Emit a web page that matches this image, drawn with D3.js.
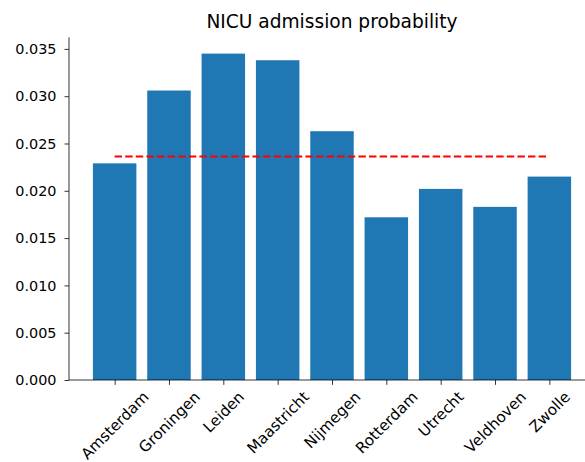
<!DOCTYPE html>
<html>
<head>
<meta charset="utf-8">
<script src="https://cdn.jsdelivr.net/npm/d3@7"></script>
<style>
  html, body { margin: 0; padding: 0; background: #fff; }
  svg { display: block; font-family: "DejaVu Sans", sans-serif; }
</style>
</head>
<body>
<svg id="chart" width="585" height="462"></svg>
<script>
// Hospital locations and their NICU admission probabilities
const centres = ["Amsterdam", "Groningen", "Leiden", "Maastricht", "Nijmegen",
                 "Rotterdam", "Utrecht", "Veldhoven", "Zwolle"];
const probabilities = [0.0229, 0.0306, 0.0345, 0.0338, 0.0263,
                       0.0172, 0.0202, 0.0183, 0.0215];
// National average drawn as a dashed reference line
const overallMean = 0.02362;
const yTicks = [0, 0.005, 0.010, 0.015, 0.020, 0.025, 0.030, 0.035];
const chartTitle = "NICU admission probability";

const svg = d3.select("#chart");
const plotLeft = 69, plotRight = 595, plotTop = 37.3, plotBottom = 380;

// Linear positions: index i sits at x(i); bars are 0.8 wide
const x = d3.scaleLinear()
  .domain([-0.84, centres.length - 1 + 0.84])
  .range([plotLeft, plotRight]);
const y = d3.scaleLinear()
  .domain([0, d3.max(probabilities) * 1.05])
  .range([plotBottom, plotTop]);

const barW = x(0.8) - x(0);

svg.append("g")
  .selectAll("rect")
  .data(probabilities)
  .join("rect")
  .attr("x", (d, i) => x(i - 0.4))
  .attr("width", barW)
  .attr("y", d => y(d))
  .attr("height", d => y(0) - y(d))
  .attr("fill", "#1f77b4");

// Dashed mean line from the first to the last centre
svg.append("line")
  .attr("x1", x(0)).attr("x2", x(centres.length - 1))
  .attr("y1", y(overallMean)).attr("y2", y(overallMean))
  .attr("stroke", "#ff0000")
  .attr("stroke-width", 2)
  .attr("stroke-dasharray", "7.4,3.2");

// Y axis
const yAxis = svg.append("g")
  .attr("transform", `translate(${plotLeft},0)`)
  .call(d3.axisLeft(y).tickValues(yTicks).tickFormat(d3.format(".3f"))
        .tickSize(4.5).tickPadding(8));
yAxis.select(".domain").attr("d", `M0,${plotBottom}V${plotTop}`)
  .attr("stroke", "#000").attr("stroke-width", 0.8);
yAxis.selectAll(".tick line").attr("stroke", "#000").attr("stroke-width", 0.8);
yAxis.selectAll(".tick text")
  .attr("font-size", "14.4px").attr("fill", "#000")
  .attr("font-family", "DejaVu Sans, sans-serif");

// X axis with rotated labels centred under each tick
const xAxis = svg.append("g")
  .attr("transform", `translate(0,${plotBottom})`)
  .call(d3.axisBottom(x).tickValues(d3.range(centres.length))
        .tickFormat(i => centres[i]).tickSize(4.86).tickPadding(4.86));
xAxis.select(".domain").attr("d", `M${plotLeft},0H${plotRight}`)
  .attr("stroke", "#000").attr("stroke-width", 0.8);
xAxis.selectAll(".tick line").attr("stroke", "#000").attr("stroke-width", 0.8);
xAxis.selectAll(".tick text")
  .attr("font-size", "15.2px").attr("fill", "#000")
  .attr("font-family", "DejaVu Sans, sans-serif")
  .attr("text-anchor", "middle")
  .attr("dy", null)
  .attr("dominant-baseline", "central")
  .each(function () {
    const t = d3.select(this);
    const w = this.getComputedTextLength();
    const h = 15.2 * 0.9;
    const boxH = (w + h) * Math.SQRT1_2;
    const cy = 9.5 + boxH / 2;
    t.attr("y", 0).attr("x", 0)
     .attr("transform", `translate(0,${cy}) rotate(-45)`);
  });

// Title
svg.append("text")
  .attr("x", (plotLeft + plotRight) / 2)
  .attr("y", 28.3)
  .attr("text-anchor", "middle")
  .attr("font-size", "18.6px")
  .attr("fill", "#000")
  .text(chartTitle);
</script>
</body>
</html>
